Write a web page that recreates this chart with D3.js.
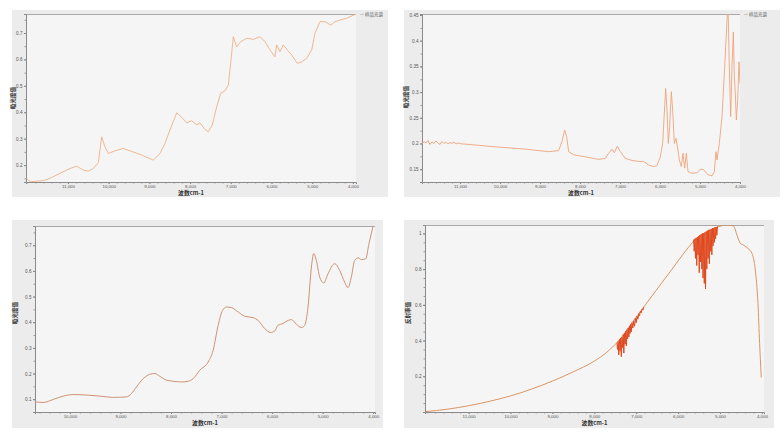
<!DOCTYPE html>
<html><head><meta charset="utf-8">
<script src="https://cdn.jsdelivr.net/npm/d3@7"></script>
<style>
html,body{margin:0;padding:0;background:#fff;}
svg{display:block;font-family:"Noto Sans CJK SC","Noto Sans",sans-serif;}
</style></head>
<body><svg id="c" width="784" height="437"></svg>
<script>
// ---------- DATA ----------
const xTickValues = [11000, 10000, 9000, 8000, 7000, 6000, 5000, 4000];
const xTickValues3 = [10000, 9000, 8000, 7000, 6000, 5000, 4000];
const yTicks1 = [0.2, 0.3, 0.4, 0.5, 0.6, 0.7];
const yTicks2 = [0.15, 0.2, 0.25, 0.3, 0.35, 0.4, 0.45];
const yTicks3 = [0.1, 0.2, 0.3, 0.4, 0.5, 0.6, 0.7];
const yTicks4 = [0.2, 0.4, 0.6, 0.8, 1];
const xTitle = "波数cm-1";
const yTitles = ["吸光度值", "吸光度值", "吸光度值", "反射率值"];
const legendText = "— 样品光谱";

const p1Wn = [12030,11932,11605,11441,11195,10949,10785,10623,10500,10377,10254,10171,10090,10009,9844,9640,9476,9188,8903,8739,8616,8493,8329,8206,8083,7960,7838,7757,7634,7552,7454,7346,7248,7143,7061,7003,6939,6857,6757,6610,6447,6283,6160,6037,5915,5873,5792,5710,5612,5505,5367,5259,5136,5013,4932,4809,4686,4546,4441,4318,4154,3925];
const p1Val = [0.153,0.137,0.141,0.150,0.169,0.187,0.196,0.181,0.177,0.187,0.209,0.307,0.269,0.244,0.254,0.263,0.254,0.238,0.219,0.244,0.282,0.333,0.398,0.381,0.360,0.368,0.352,0.360,0.335,0.326,0.352,0.421,0.472,0.481,0.503,0.585,0.686,0.648,0.667,0.680,0.676,0.686,0.667,0.636,0.610,0.655,0.629,0.655,0.636,0.617,0.585,0.591,0.604,0.636,0.699,0.743,0.743,0.730,0.743,0.749,0.756,0.772];

const p2Wn = [11950,11900,11850,11800,11750,11700,11650,11600,11550,11500,11450,11400,11350,11300,11250,11200,11150,11100,11050,11000,10950,10900,10200,9367,8783,8533,8450,8383,8333,8283,8158,7867,7533,7367,7283,7200,7142,7067,6992,6867,6700,6533,6408,6283,6158,6075,5992,5933,5892,5858,5825,5792,5758,5717,5683,5642,5600,5558,5517,5467,5425,5383,5342,5300,5200,5075,4992,4908,4800,4700,4642,4600,4575,4517,4450,4383,4325,4300,4267,4233,4200,4167,4142,4117,4092,4058,4025,4000];
const p2Val = [0.199,0.204,0.201,0.206,0.198,0.203,0.200,0.205,0.201,0.198,0.204,0.200,0.203,0.199,0.202,0.200,0.203,0.199,0.201,0.200,0.199,0.199,0.194,0.189,0.184,0.186,0.204,0.226,0.213,0.184,0.178,0.174,0.169,0.171,0.181,0.189,0.182,0.195,0.184,0.171,0.167,0.165,0.165,0.158,0.155,0.157,0.174,0.200,0.259,0.307,0.265,0.200,0.233,0.301,0.265,0.200,0.210,0.191,0.168,0.155,0.181,0.152,0.181,0.145,0.142,0.143,0.150,0.149,0.139,0.137,0.145,0.184,0.168,0.200,0.252,0.349,0.440,0.470,0.349,0.252,0.349,0.417,0.330,0.298,0.246,0.285,0.359,0.317];

const p3Wn = [10690,10526,10329,10131,9933,9670,9407,9143,8880,8781,8682,8550,8418,8319,8220,8088,7957,7792,7660,7561,7430,7265,7166,7067,6981,6902,6804,6672,6541,6376,6277,6146,6033,5948,5882,5784,5685,5619,5520,5421,5355,5290,5223,5178,5125,5059,4980,4894,4763,4664,4565,4499,4433,4367,4301,4235,4150,4084,4005];
const p3Val = [0.090,0.087,0.099,0.112,0.118,0.116,0.112,0.107,0.109,0.122,0.148,0.180,0.197,0.200,0.189,0.174,0.170,0.167,0.170,0.180,0.213,0.245,0.291,0.388,0.446,0.459,0.457,0.440,0.423,0.418,0.407,0.375,0.360,0.366,0.388,0.395,0.407,0.410,0.392,0.379,0.388,0.459,0.615,0.667,0.641,0.576,0.553,0.589,0.628,0.602,0.556,0.535,0.576,0.641,0.651,0.644,0.647,0.706,0.773];

const p4Wn = [12040,11500,11000,10500,10000,9500,9000,8500,8000,7700,7417,7099,6781,6463,6144,5827,5547,5268,5029,4871,4792,4673,4594,4514,4435,4332,4237,4157,4094,4054,4016];
const p4Val = [0.002,0.016,0.035,0.060,0.090,0.128,0.173,0.225,0.285,0.335,0.400,0.500,0.600,0.700,0.800,0.900,0.975,1.015,1.038,1.047,1.048,1.040,0.990,0.944,0.934,0.916,0.888,0.794,0.607,0.382,0.194];

const p4BandAWn = [7460,7445,7430,7415,7400,7385,7370,7355,7340,7325,7310,7295,7280,7265,7250,7235,7220,7205,7190,7175,7160,7145,7130,7115,7100,7080,7060,7040,7020,7000,6980,6960,6940,6920,6900,6880,6860,6840,6820];
const p4BandAVal = [0.385,0.35,0.395,0.32,0.405,0.34,0.413,0.31,0.42,0.36,0.433,0.33,0.44,0.38,0.452,0.37,0.46,0.41,0.47,0.42,0.48,0.44,0.49,0.45,0.50,0.47,0.51,0.48,0.525,0.50,0.537,0.52,0.55,0.54,0.563,0.555,0.575,0.57,0.587];
const p4BandBWn = [5630,5615,5600,5585,5570,5555,5540,5525,5510,5495,5480,5465,5450,5435,5420,5405,5390,5375,5360,5345,5330,5315,5300,5285,5270,5255,5240,5225,5210,5195,5180,5165,5150,5135,5120,5105,5090,5075,5060];
const p4BandBVal = [0.965,0.90,0.97,0.86,0.975,0.82,0.98,0.88,0.985,0.78,0.99,0.84,0.995,0.80,1.0,0.75,1.0,0.72,1.005,0.69,1.01,0.80,1.015,0.86,1.02,0.83,1.02,0.90,1.025,0.88,1.03,0.93,1.03,0.95,1.035,0.97,1.035,0.99,1.04];

// ---------- DRAW ----------
const svg = d3.select("#c");
const zip = (a, b) => a.map((v, i) => [v, b[i]]);

const panels = [
  {card:[12,10,376,187], plot:[26,14,356,182], xd:[12030,3925], yd:[0.136,0.772], xt:xTickValues, yt:yTicks1, yfmt:d3.format(".1f"), legend:true, yTitle:[13,98]},
  {card:[404,10,376,187], plot:[422,14,740,182], xd:[11950,4000], yd:[0.125,0.452], xt:xTickValues, yt:yTicks2, yfmt:d => String(+d.toFixed(2)), legend:true, yTitle:[406,97]},
  {card:[12,220,371,208], plot:[35,226,375,412], xd:[10690,3965], yd:[0.05,0.775], xt:xTickValues3, yt:yTicks3, yfmt:d3.format(".1f"), legend:false, yTitle:[15,313]},
  {card:[404,220,370,208], plot:[425,225,764,412], xd:[12040,3950], yd:[0,1.047], xt:xTickValues, yt:yTicks4, yfmt:d => String(+d.toFixed(1)), legend:false, yTitle:[408,313]}
];

panels.forEach((p, i) => {
  const [l, t, r, b] = p.plot;
  const g = svg.append("g");
  g.append("rect").attr("x", p.card[0]).attr("y", p.card[1]).attr("width", p.card[2]).attr("height", p.card[3]).attr("fill", "#ececec");
  g.append("rect").attr("x", l).attr("y", t).attr("width", r - l).attr("height", b - t).attr("fill", "#f5f5f5");
  p.x = d3.scaleLinear().domain(p.xd).range([l, r]);
  p.y = d3.scaleLinear().domain(p.yd).range([b, t]);
  g.append("line").attr("x1", l).attr("x2", r).attr("y1", t + 0.5).attr("y2", t + 0.5).attr("stroke", "#a8a8a8").attr("stroke-width", 1);
  const minorX = d3.range(Math.ceil(Math.min(...p.xd) / 200) * 200, Math.max(...p.xd), 200);
  g.append("g").attr("transform", `translate(0,${b})`)
    .call(d3.axisBottom(p.x).tickValues(minorX).tickSize(1.5).tickFormat(() => ""))
    .call(s => s.select(".domain").remove())
    .selectAll("line").attr("stroke", "#9a9a9a");
  const minorY = d3.range(0, 1.1, p.yt[1] - p.yt[0] > 0.08 ? 0.05 : 0.025).filter(v => v >= p.yd[0] && v <= p.yd[1]);
  g.append("g").attr("transform", `translate(${l},0)`)
    .call(d3.axisLeft(p.y).tickValues(minorY).tickSize(1.5).tickFormat(() => ""))
    .call(s => s.select(".domain").remove())
    .selectAll("line").attr("stroke", "#9a9a9a");
  const ax = g.append("g").attr("transform", `translate(0,${b})`)
    .call(d3.axisBottom(p.x).tickValues(p.xt).tickSize(2).tickPadding(0.5).tickFormat(d3.format(",")));
  ax.select(".domain").attr("stroke", "#8a8a8a");
  ax.selectAll("line").attr("stroke", "#8a8a8a");
  ax.selectAll("text").attr("fill", "#555").attr("font-size", 4.4);
  const ay = g.append("g").attr("transform", `translate(${l},0)`)
    .call(d3.axisLeft(p.y).tickValues(p.yt).tickSize(2).tickPadding(1.5).tickFormat(p.yfmt));
  ay.select(".domain").attr("stroke", "#8a8a8a");
  ay.selectAll("line").attr("stroke", "#8a8a8a");
  ay.selectAll("text").attr("fill", "#555").attr("font-size", 4.6);
  g.append("text").attr("x", (l + r) / 2).attr("y", b + 11.8).attr("text-anchor", "middle")
    .attr("dominant-baseline", "middle")
    .attr("font-size", 5.8).attr("font-weight", "bold").attr("fill", "#333").text(xTitle);
  g.append("text").attr("transform", `translate(${p.yTitle[0]},${p.yTitle[1]}) rotate(-90)`).attr("text-anchor", "middle")
    .attr("dominant-baseline", "middle").attr("font-size", 5.5).attr("font-weight", "bold").attr("fill", "#333").text(yTitles[i]);
  if (p.legend) {
    g.append("text").attr("x", r + 4).attr("y", t + 2).attr("font-size", 4.5).attr("fill", "#555").text(legendText);
  }
  g.append("clipPath").attr("id", "clip" + i).append("rect").attr("x", l).attr("y", t).attr("width", r - l).attr("height", b - t);
  p.layer = g.append("g").attr("clip-path", `url(#clip${i})`);
});

function drawLine(p, data, color, width, curve) {
  p.layer.append("path").datum(data)
    .attr("d", d3.line().x(d => p.x(d[0])).y(d => p.y(d[1])).curve(curve || d3.curveLinear))
    .attr("fill", "none").attr("stroke", color).attr("stroke-width", width).attr("stroke-linejoin", "round");
}

drawLine(panels[0], zip(p1Wn, p1Val), "#f0b088", 0.9);
drawLine(panels[1], zip(p2Wn, p2Val), "#efa47a", 0.9);
drawLine(panels[2], zip(p3Wn, p3Val), "#cf9274", 1.0, d3.curveMonotoneX);
drawLine(panels[3], zip(p4Wn, p4Val), "#d98a55", 0.9, d3.curveMonotoneX);
drawLine(panels[3], zip(p4BandAWn, p4BandAVal), "#e0481e", 1.0);
drawLine(panels[3], zip(p4BandBWn, p4BandBVal), "#e0481e", 1.0);
</script></body></html>
